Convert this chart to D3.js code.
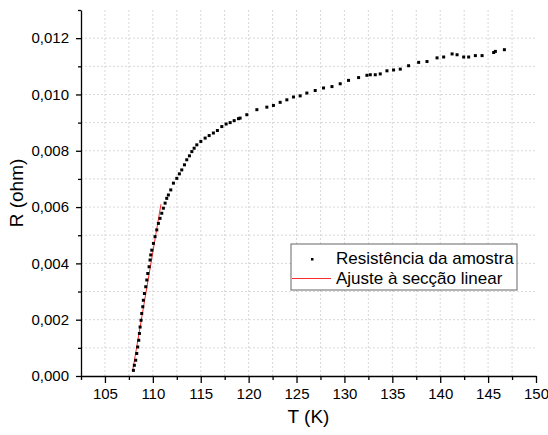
<!DOCTYPE html>
<html>
  <head>
    <meta charset="utf-8">
    <title>R vs T</title>
    <script src="https://cdn.jsdelivr.net/npm/d3@7/dist/d3.min.js"></script>
    <style>
      body { margin: 0; background: #fff; }
      svg text { font-family: "Liberation Sans", Arial, sans-serif; fill: #000; }
      .grid line { stroke: #d8d8d8; stroke-width: 1; stroke-dasharray: 2,2; }
      .axis path, .axis line { stroke: #000; stroke-width: 1.3; }
    </style>
  </head>
  <body>
    <svg id="chart"></svg>
    <script>
// measured points (T in K, R in ohm)
var tempK = [107.97, 108.07, 108.21, 108.32, 108.42, 108.53, 108.60, 108.67, 108.77, 108.84,
  108.95, 109.01, 109.12, 109.26, 109.37, 109.47, 109.61, 109.71, 109.78, 109.89,
  110.06, 110.23, 110.41, 110.58, 110.75, 110.93, 111.10, 111.28, 111.45, 111.62,
  111.87, 112.15, 112.50, 112.77, 113.02, 113.30, 113.54, 113.82, 114.07, 114.31,
  114.59, 115.01, 115.46, 115.88, 116.32, 116.74, 117.20, 117.65, 118.07, 118.49,
  118.94, 119.11, 119.81, 120.86, 121.90, 122.59, 123.29, 123.99, 124.68, 125.38,
  126.08, 126.95, 127.82, 128.70, 129.56, 130.43, 131.48, 132.35, 132.70, 133.22,
  133.74, 134.44, 135.13, 135.83, 136.70, 137.75, 138.62, 139.67, 140.36, 141.24,
  141.76, 142.45, 142.97, 143.67, 144.37, 145.58, 145.76, 146.70];
var resOhm = [0.00020, 0.00038, 0.00056, 0.00080, 0.00103, 0.00127, 0.00151, 0.00174, 0.00198, 0.00222,
  0.00246, 0.00269, 0.00293, 0.00317, 0.00341, 0.00364, 0.00388, 0.00412, 0.00430, 0.00447,
  0.00471, 0.00495, 0.00519, 0.00542, 0.00560, 0.00578, 0.00596, 0.00614, 0.00631, 0.00643,
  0.00661, 0.00685, 0.00702, 0.00718, 0.00732, 0.00750, 0.00768, 0.00782, 0.00797, 0.00809,
  0.00821, 0.00833, 0.00845, 0.00854, 0.00863, 0.00872, 0.00886, 0.00895, 0.00900, 0.00907,
  0.00914, 0.00916, 0.00928, 0.00946, 0.00955, 0.00961, 0.00972, 0.00981, 0.00991, 0.00995,
  0.01005, 0.01014, 0.01023, 0.01028, 0.01038, 0.01050, 0.01060, 0.01068, 0.01070, 0.01070,
  0.01073, 0.01084, 0.01087, 0.01090, 0.01102, 0.01114, 0.01117, 0.01130, 0.01133, 0.01144,
  0.01141, 0.01133, 0.01133, 0.01138, 0.01138, 0.01149, 0.01153, 0.01159];

// linear fit endpoints
var fitT = [107.9, 110.85];
var fitR = [0.0002, 0.0061];

var xMajor = [105, 110, 115, 120, 125, 130, 135, 140, 145, 150];
var xMinor = [102.5, 107.5, 112.5, 117.5, 122.5, 127.5, 132.5, 137.5, 142.5, 147.5];
var yMajor = [0, 0.002, 0.004, 0.006, 0.008, 0.010, 0.012];
var yMinor = [0.001, 0.003, 0.005, 0.007, 0.009, 0.011, 0.013];

var legendLabels = ["Resistência da amostra", "Ajuste à secção linear"];

var width = 548, height = 435;
var margin = {top: 10, right: 12, bottom: 59, left: 81};

var svg = d3.select("#chart")
    .attr("width", width)
    .attr("height", height);

var x = d3.scaleLinear().domain([102.5, 150]).range([margin.left, width - margin.right]);
var y = d3.scaleLinear().domain([0, 0.013]).range([height - margin.bottom, margin.top]);

function fmtY(d) { return d3.format(".3f")(d).replace(".", ","); }

// grid (dashed, every minor + major step)
var vGrid = xMajor.concat(xMinor).filter(function(d) { return d > 102.5 && d < 150; });
var hGrid = yMajor.concat(yMinor).filter(function(d) { return d > 0 && d < 0.013; });

svg.append("g").attr("class", "grid")
  .selectAll("line").data(vGrid).enter().append("line")
    .attr("x1", function(d) { return x(d); })
    .attr("x2", function(d) { return x(d); })
    .attr("y1", y(0.013))
    .attr("y2", y(0));

svg.append("g").attr("class", "grid")
  .selectAll("line").data(hGrid).enter().append("line")
    .attr("x1", x(102.5))
    .attr("x2", x(150))
    .attr("y1", function(d) { return y(d); })
    .attr("y2", function(d) { return y(d); });

// axes
var xAxisG = svg.append("g").attr("class", "axis")
    .attr("transform", "translate(0," + y(0) + ")");
xAxisG.call(d3.axisBottom(x).tickValues(xMinor).tickSize(4).tickFormat("").tickSizeOuter(0));
xAxisG.append("g").call(d3.axisBottom(x).tickValues(xMajor).tickSize(7).tickSizeOuter(0).tickPadding(5))
  .call(function(g) { g.select(".domain").remove(); })
  .selectAll("text").style("font-size", "15px");

var yAxisG = svg.append("g").attr("class", "axis")
    .attr("transform", "translate(" + x(102.5) + ",0)");
yAxisG.call(d3.axisLeft(y).tickValues(yMinor).tickSize(3).tickFormat("").tickSizeOuter(0));
yAxisG.append("g").call(d3.axisLeft(y).tickValues(yMajor).tickSize(5).tickSizeOuter(0).tickPadding(7).tickFormat(fmtY))
  .call(function(g) { g.select(".domain").remove(); })
  .selectAll("text").style("font-size", "15px");

svg.selectAll(".axis text").attr("fill", "#000");

// axis titles
svg.append("text")
    .attr("x", (x.range()[0] + x.range()[1]) / 2)
    .attr("y", 423)
    .attr("text-anchor", "middle")
    .style("font-size", "19px")
    .text("T (K)");

svg.append("text")
    .attr("transform", "translate(23," + ((y.range()[0] + y.range()[1]) / 2) + ")rotate(-90)")
    .attr("text-anchor", "middle")
    .style("font-size", "19px")
    .text("R (ohm)");

// fit line
svg.append("line")
    .attr("x1", x(fitT[0])).attr("y1", y(fitR[0]))
    .attr("x2", x(fitT[1])).attr("y2", y(fitR[1]))
    .attr("stroke", "#ff2a2a")
    .attr("stroke-width", 1);

// data points
var pts = d3.zip(tempK, resOhm);
svg.append("g").selectAll("rect").data(pts).enter().append("rect")
    .attr("x", function(d) { return x(d[0]) - 1.5; })
    .attr("y", function(d) { return y(d[1]) - 1.5; })
    .attr("width", 3)
    .attr("height", 3)
    .attr("fill", "#000");

// legend
var lg = svg.append("g").attr("transform", "translate(291,244)");
lg.append("rect")
    .attr("width", 226).attr("height", 46)
    .attr("fill", "#fff").attr("stroke", "#666").attr("stroke-width", 1);
lg.append("rect")
    .attr("x", 20).attr("y", 14).attr("width", 2.5).attr("height", 2.5).attr("fill", "#000");
lg.append("line")
    .attr("x1", 1).attr("x2", 40).attr("y1", 34.5).attr("y2", 34.5)
    .attr("stroke", "#ff2a2a").attr("stroke-width", 1);
lg.selectAll("text.lbl").data(legendLabels).enter().append("text")
    .attr("class", "lbl")
    .attr("x", 45)
    .attr("y", function(d, i) { return 20 + i * 20; })
    .style("font-size", "17px")
    .text(function(d) { return d; });
    </script>
  </body>
</html>
